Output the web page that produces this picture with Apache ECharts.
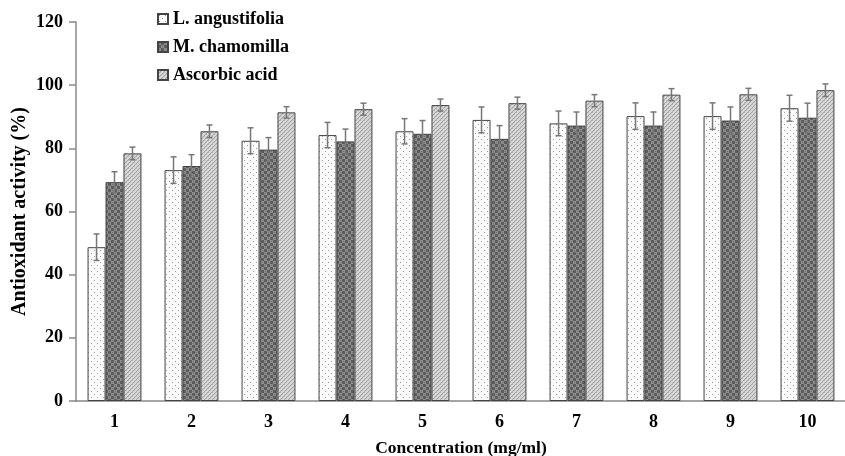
<!DOCTYPE html>
<html><head><meta charset="utf-8">
<script src="https://cdn.jsdelivr.net/npm/echarts@6/dist/echarts.min.js"></script>
<style>html,body{margin:0;padding:0;background:#fff}#c{width:845px;height:456px}</style>
</head><body><div id="c"></div>
<script>
const categories = ['1','2','3','4','5','6','7','8','9','10'];
const seriesNames = ['L. angustifolia','M. chamomilla','Ascorbic acid'];
const lavender = [48.7, 73.1, 82.4, 84.2, 85.4, 89.0, 87.9, 90.2, 90.2, 92.7];
const chamomile = [69.3, 74.4, 79.6, 82.2, 84.6, 83.0, 87.2, 87.2, 88.8, 89.7];
const ascorbic = [78.4, 85.4, 91.4, 92.4, 93.7, 94.3, 95.1, 97.0, 97.1, 98.4];
const lavenderErr = [4.2, 4.2, 4.1, 4.0, 4.0, 4.1, 3.9, 4.2, 4.2, 4.1];
const chamomileErr = [3.3, 3.6, 3.8, 3.9, 4.2, 4.2, 4.3, 4.3, 4.3, 4.6];
const ascorbicErr = [2.0, 2.0, 1.8, 1.9, 1.9, 1.9, 1.9, 1.9, 1.9, 2.0];
const yTicks = [0, 20, 40, 60, 80, 100, 120];

function pattern(w, h, draw) {
  const c = document.createElement('canvas');
  c.width = w; c.height = h;
  const g = c.getContext('2d');
  draw(g);
  return {image: c, repeat: 'repeat'};
}
const patL = pattern(6, 6, g => {
  g.fillStyle = '#fbfbfb'; g.fillRect(0,0,6,6);
  g.fillStyle = '#9a9a9a'; g.fillRect(1,1,1,1); g.fillRect(4,4,1,1);
});
const patM = pattern(6, 6, g => {
  g.fillStyle = '#5c5c5c'; g.fillRect(0,0,6,6);
  g.fillStyle = '#8e8e8e'; g.fillRect(0,0,3,3); g.fillRect(3,3,3,3);
  g.fillStyle = '#707070'; g.fillRect(1,1,1,1); g.fillRect(4,4,1,1);
});
const patA = pattern(4, 4, g => {
  g.fillStyle = '#d8d8d8'; g.fillRect(0,0,4,4);
  g.fillStyle = '#a0a0a0';
  for (let i = 0; i < 4; i++) { g.fillRect(i, 3 - i, 1, 1); }
  g.fillStyle = '#bdbdbd'; g.fillRect(0,0,1,1); g.fillRect(2,2,1,1);
});
const pats = [patL, patM, patA];
const values = [lavender, chamomile, ascorbic];
const errs = [lavenderErr, chamomileErr, ascorbicErr];
const GAP = 0.3;

const series = [];
values.forEach((v, i) => {
  series.push({
    name: seriesNames[i], type: 'bar', data: v,
    barGap: '0%', barCategoryGap: '30%',
    itemStyle: {color: pats[i], borderColor: '#444', borderWidth: 1},
    emphasis: {disabled: true}, z: 2
  });
});
values.forEach((v, i) => {
  series.push({
    type: 'custom', name: 'err' + i, z: 5, silent: true,
    data: v.map((val, k) => [k, val, errs[i][k]]),
    renderItem: function (params, api) {
      const k = api.value(0);
      const band = api.size([1, 0])[0];
      const bw = band * (1 - GAP) / 3;
      const c = api.coord([k, api.value(1)]);
      const x = c[0] + (i - 1) * bw;
      const top = api.coord([k, api.value(1) + api.value(2)])[1];
      const bot = api.coord([k, api.value(1) - api.value(2)])[1];
      const st = {stroke: '#777', lineWidth: 1.5};
      return {type: 'group', children: [
        {type: 'line', shape: {x1: x, y1: top, x2: x, y2: bot}, style: st},
        {type: 'line', shape: {x1: x - 3, y1: top, x2: x + 3, y2: top}, style: st},
        {type: 'line', shape: {x1: x - 3, y1: bot, x2: x + 3, y2: bot}, style: st}
      ]};
    }
  });
});

const font = 'Liberation Serif';
const chart = echarts.init(document.getElementById('c'), null, {renderer: 'canvas'});
chart.setOption({
  animation: false,
  backgroundColor: '#fff',
  grid: {left: 76, right: -1, top: 22, bottom: 55, containLabel: false, outerBoundsMode: 'none'},
  legend: {
    data: seriesNames, orient: 'vertical', left: 152, top: 5, icon: 'rect',
    itemWidth: 10, itemHeight: 10, itemGap: 10,
    textStyle: {fontFamily: font, fontWeight: 'bold', fontSize: 18, color: '#000'},
    selectedMode: false
  },
  xAxis: {
    type: 'category', data: categories,
    name: 'Concentration (mg/ml)', nameLocation: 'middle', nameGap: 38,
    nameTextStyle: {fontFamily: font, fontWeight: 'bold', fontSize: 17.5, color: '#000'},
    axisLine: {lineStyle: {color: '#888', width: 1.5}},
    axisTick: {show: false},
    axisLabel: {fontFamily: font, fontWeight: 'bold', fontSize: 18, color: '#000', margin: 12}
  },
  yAxis: {
    type: 'value', min: 0, max: 120, interval: 20,
    name: 'Antioxidant activity (%)', nameLocation: 'middle', nameGap: 46, nameMoveOverlap: false,
    nameTextStyle: {fontFamily: font, fontWeight: 'bold', fontSize: 20, color: '#000'},
    axisLine: {show: true, lineStyle: {color: '#888', width: 1.5}},
    axisTick: {show: true, length: 7, lineStyle: {color: '#888', width: 1.5}},
    splitLine: {show: false},
    axisLabel: {fontFamily: font, fontWeight: 'bold', fontSize: 18, color: '#000', margin: 13,
      formatter: v => yTicks.includes(v) ? String(v) : ''}
  },
  series: series
});
</script></body></html>
